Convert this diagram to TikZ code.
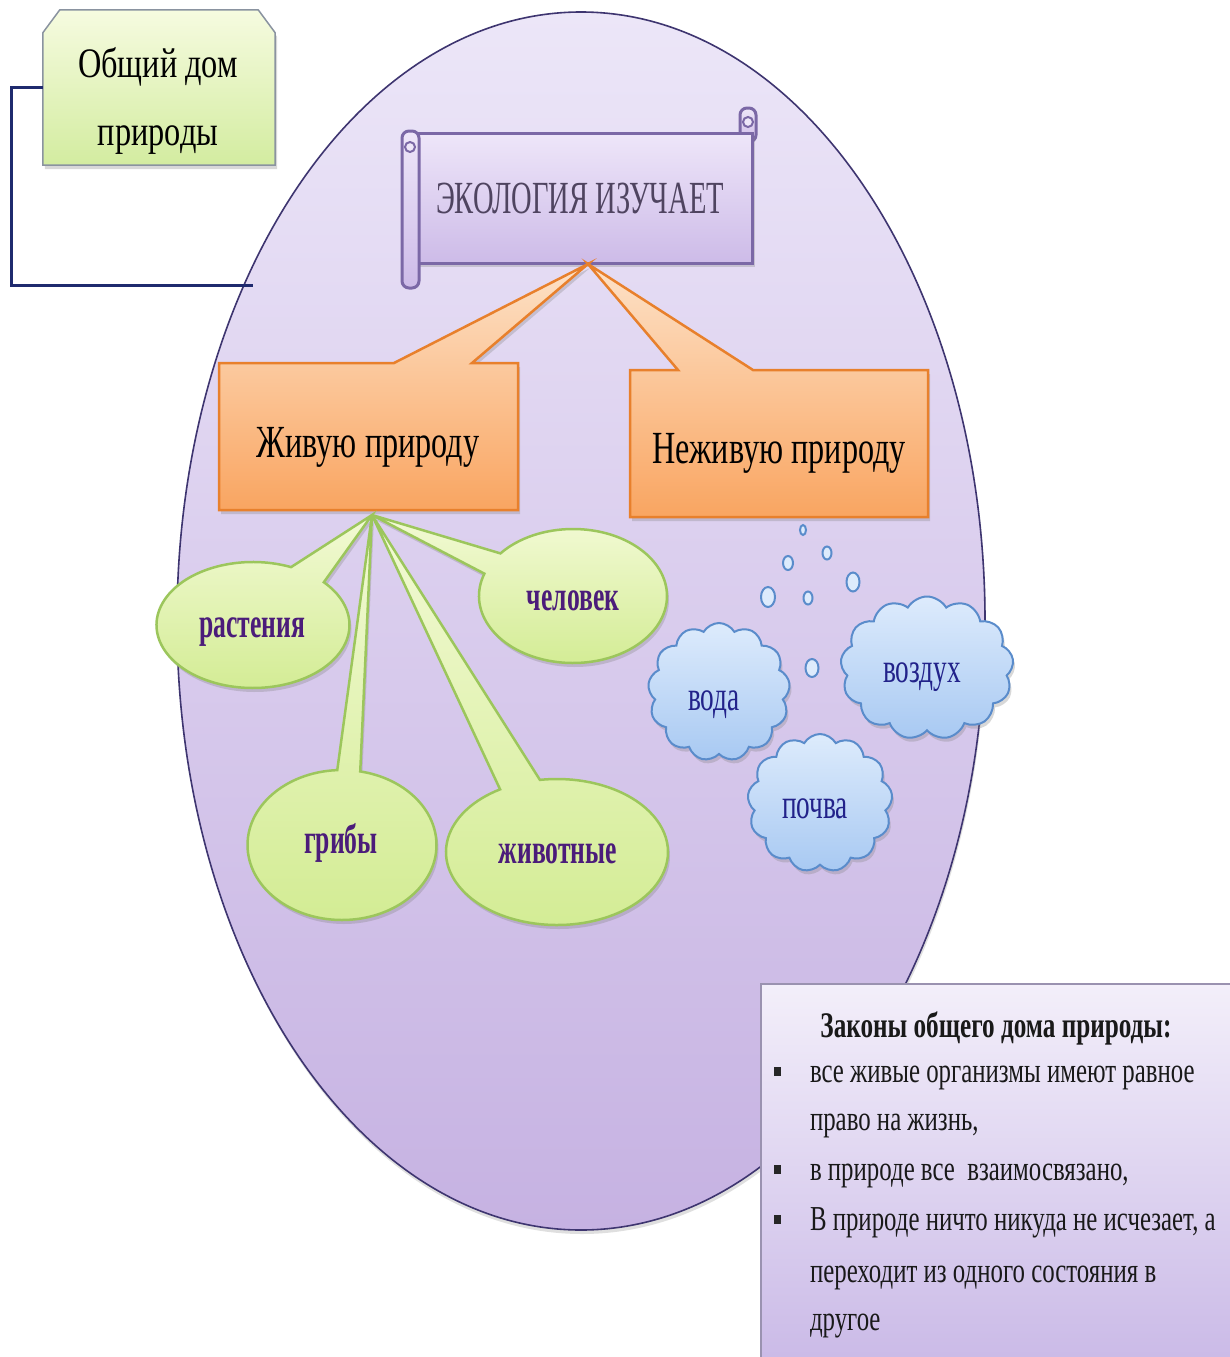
\documentclass[tikz,border=0pt]{standalone}
\usepackage{fontspec}
\setmainfont{Liberation Serif}
\newfontfamily\fHome[FakeStretch=0.77]{Liberation Serif}
\newfontfamily\fTitle[FakeStretch=0.62]{Liberation Serif}
\newfontfamily\fOrange[FakeStretch=0.70]{Liberation Serif}
\newfontfamily\fGreen[FakeStretch=0.61]{Liberation Serif}
\newfontfamily\fCloud[FakeStretch=0.65]{Liberation Serif}
\newfontfamily\fLaw[FakeStretch=0.71]{Liberation Serif}
\newfontfamily\fLawHead[FakeStretch=0.70]{Liberation Serif}
\newcommand\fsz[2]{\fontsize{#1}{#2}\selectfont}
\usetikzlibrary{shapes.geometric,shapes.callouts,shapes.symbols,shadows,calc}
\definecolor{ellTop}{HTML}{ECE6F8}
\definecolor{ellBot}{HTML}{C6B2E2}
\definecolor{ellBorder}{HTML}{3E3570}
\definecolor{scTop}{HTML}{EEE6F9}
\definecolor{scBot}{HTML}{CDBBE8}
\definecolor{scBorder}{HTML}{7B68A6}
\definecolor{scText}{HTML}{4F4460}
\definecolor{orTop}{HTML}{FDE2C8}
\definecolor{orBot}{HTML}{F9A561}
\definecolor{orBorder}{HTML}{E8802C}
\definecolor{grTop}{HTML}{F3FAD6}
\definecolor{grBot}{HTML}{D3EC94}
\definecolor{grBorder}{HTML}{9CC65C}
\definecolor{grText}{HTML}{4B1C7A}
\definecolor{clTop}{HTML}{DDEBFC}
\definecolor{clBot}{HTML}{A8C9F2}
\definecolor{clBorder}{HTML}{5A8CCB}
\definecolor{clText}{HTML}{22228A}
\definecolor{hmTop}{HTML}{F6FBE0}
\definecolor{hmBot}{HTML}{D3ECA0}
\definecolor{hmBorder}{HTML}{8A93A0}
\definecolor{lwTop}{HTML}{F3EFFA}
\definecolor{lwBot}{HTML}{C8B7E6}
\definecolor{lwBorder}{HTML}{9A92B0}
\definecolor{navy}{HTML}{1F2A6E}
\begin{document}
\begin{tikzpicture}[x=1pt,y=-1pt,
  txt/.style={inner sep=0pt, outer sep=0pt},
  shadowed/.style={drop shadow={opacity=0.3, shadow xshift=2pt, shadow yshift=-4pt}},
  orangebox/.style={draw=orBorder, line width=2.5pt, top color=orTop, bottom color=orBot, line join=miter, shadowed},
  greenell/.style={ellipse callout, draw=grBorder, line width=2.5pt, top color=grTop, bottom color=grBot, inner sep=0pt, callout absolute pointer={(gtip)}, shadowed},
  cloudy/.style={cloud, cloud puffs=13, cloud puff arc=120, cloud ignores aspect, draw=clBorder, line width=2pt, top color=clTop, bottom color=clBot, inner sep=0pt, shadowed},
  bubble/.style={ellipse, draw=clBorder, line width=2pt, fill=clTop, inner sep=0pt},
  scrollpart/.style={draw=scBorder, line width=3pt, top color=scTop, bottom color=scBot},
  bulletsq/.style={rectangle, fill=black!85, minimum width=7pt, minimum height=9pt, inner sep=0pt},
  greentext/.style={txt, text=grText, font=\fGreen\bfseries\fsz{42}{46}},
  cloudtext/.style={txt, text=clText, font=\fCloud\fsz{42}{46}},
  lawtext/.style={txt, anchor=base west, text=black!90, font=\fLaw\fsz{35}{40}},
]
\useasboundingbox[fill=white] (0,0) rectangle (1229,1357);

% ---------- big ellipse ----------
\node[ellipse, draw=ellBorder, line width=1.6pt, top color=ellTop, bottom color=ellBot,
      minimum width=808pt, minimum height=1218pt, inner sep=0pt,
      drop shadow={opacity=0.25, shadow xshift=1pt, shadow yshift=-4pt}] (eco) at (581,621) {};

% ---------- scroll ----------
\path[scrollpart, rounded corners=7pt] (740,108) rectangle (756,142);
\node[rectangle, draw=scBorder, line width=3pt, top color=scTop, bottom color=scBot,
      minimum width=337pt, minimum height=130pt, inner sep=0pt, shadowed] (scroll) at (584,198) {};
\path[scrollpart, rounded corners=7pt] (402,131) rectangle (419,288);
\draw[scBorder, line width=2pt, fill=scTop] (410,147) circle (5);
\draw[scBorder, line width=2pt, fill=scTop] (748,122) circle (5);
\node[txt, anchor=base, text=scText, font=\fTitle\fsz{46}{50}] (title) at (580,213) {ЭКОЛОГИЯ ИЗУЧАЕТ};
\coordinate (otip) at (588,264);

% ---------- orange callouts ----------
\path[orangebox] (219,363) -- (394,363) -- (otip) -- (472,363) -- (518,363) -- (518,510) -- (219,510) -- cycle;
\path[orangebox] (630,370) -- (678,370) -- (otip) -- (753,370) -- (928,370) -- (928,517) -- (630,517) -- cycle;
\node[txt, anchor=base, font=\fOrange\fsz{46}{50}] (live) at (368,457) {Живую природу};
\node[txt, anchor=base, font=\fOrange\fsz{46}{50}] (nonlive) at (779,463) {Неживую природу};

% ---------- green callouts ----------
\coordinate (gtip) at (372,515);
\node[greenell, callout pointer arc=24, minimum width=193pt, minimum height=126pt] (plants) at (253,625) {};
\node[greenell, callout pointer arc=20, minimum width=188pt, minimum height=134pt] (human) at (573,596) {};
\node[greenell, callout pointer arc=14, minimum width=189pt, minimum height=150pt] (fungi) at (342,845) {};
\node[greenell, callout pointer arc=22, minimum width=222pt, minimum height=146pt] (animals) at (557,852) {};
\node[greentext, anchor=base] at (252,637) {растения};
\node[greentext, anchor=base] at (573,610) {человек};
\node[greentext, anchor=base] at (341,853) {грибы};
\node[greentext, anchor=base] at (558,863) {животные};

% ---------- bubbles ----------
\node[bubble, minimum width=6pt, minimum height=10pt] (bb1) at (803,530) {};
\node[bubble, minimum width=10pt, minimum height=14pt] (bb2) at (788,563) {};
\node[bubble, minimum width=9pt, minimum height=13pt] (bb3) at (827,553) {};
\node[bubble, minimum width=13pt, minimum height=19pt] (bb4) at (853,582) {};
\node[bubble, minimum width=14pt, minimum height=20pt] (bb5) at (768,597) {};
\node[bubble, minimum width=9pt, minimum height=13pt] (bb6) at (808,598) {};
\node[bubble, minimum width=13pt, minimum height=18pt] (bb7) at (812,668) {};

% ---------- clouds ----------
\node[cloudy, minimum width=142pt, minimum height=138pt] (water) at (719,692) {};
\node[cloudy, minimum width=173pt, minimum height=143pt] (air) at (927,668) {};
\node[cloudy, minimum width=145pt, minimum height=138pt] (soil) at (820,803) {};
\node[cloudtext, anchor=base] at (714,710) {вода};
\node[cloudtext, anchor=base] at (922,682) {воздух};
\node[cloudtext, anchor=base] at (815,818) {почва};

% ---------- laws box ----------
\node[rectangle, draw=lwBorder, line width=1.5pt, top color=lwTop, bottom color=lwBot,
      minimum width=490pt, minimum height=400pt, inner sep=0pt, anchor=north west] (laws) at (760,983) {};
\node[txt, anchor=base, text=black!90, font=\fLawHead\bfseries\fsz{36}{40}] (lawhead) at (996,1037) {Законы общего дома природы:};
\node[bulletsq] (bu1) at (777,1071) {};
\node[bulletsq] (bu2) at (777,1169) {};
\node[bulletsq] (bu3) at (777,1219) {};
\node[lawtext] (l1) at (810,1082) {все живые организмы имеют равное};
\node[lawtext] (l2) at (810,1130) {право на жизнь,};
\node[lawtext] (l3) at (810,1180) {в природе все \ взаимосвязано,};
\node[lawtext] (l4) at (810,1230) {В природе ничто никуда не исчезает, а};
\node[lawtext] (l5) at (810,1282) {переходит из одного состояния в};
\node[lawtext] (l6) at (810,1330) {другое};

% ---------- home box ----------
\node[rectangle, minimum width=232pt, minimum height=155pt, inner sep=0pt] (home) at (159,87.5) {};
\path[draw=hmBorder, line width=1.5pt, top color=hmTop, bottom color=hmBot, shadowed]
  ($(home.north west)+(0,23)$) -- ($(home.north west)+(17,0)$) -- ($(home.north east)+(-17,0)$)
  -- ($(home.north east)+(0,23)$) -- (home.south east) -- (home.south west) -- cycle;
\node[txt, anchor=base, font=\fHome\fsz{42}{46}] (h1) at (158,77) {Общий дом};
\node[txt, anchor=base, font=\fHome\fsz{42}{46}] (h2) at (158,145) {природы};

% ---------- bracket connector ----------
\coordinate (ellhit) at (253,285);
\draw[navy, line width=3pt] (home.west) -- ++(-31,0) |- (ellhit);
\end{tikzpicture}
\end{document}
